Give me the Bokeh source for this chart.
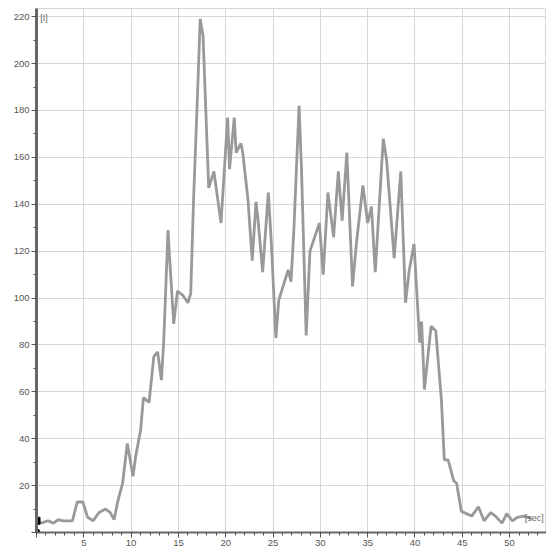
from bokeh.plotting import figure
from bokeh.models import Range1d, Label, SingleIntervalTicker
from bokeh.embed import file_html
from bokeh.resources import INLINE

t = [0.0, 0.5, 1.2, 1.8, 2.3, 2.8, 3.3, 3.8, 4.3, 4.9, 5.4, 6.0, 6.6, 7.3, 7.8, 8.2, 8.6, 9.1,
     9.6, 10.2, 10.5, 11.0, 11.3, 11.9, 12.4, 12.8, 13.2, 13.45, 13.9, 14.1, 14.5, 14.9, 15.5,
     16.0, 16.3, 16.6, 17.0, 17.3, 17.6, 18.2, 18.75, 19.5, 20.2, 20.4, 20.9, 21.1, 21.6, 21.8,
     22.35, 22.8, 23.2, 23.4, 23.9, 24.5, 24.8, 25.3, 25.6, 26.6, 26.9, 27.2, 27.75, 28.0, 28.5,
     28.9, 29.9, 30.3, 30.8, 31.4, 31.9, 32.3, 32.8, 33.4, 33.8, 34.5, 35.0, 35.4, 35.8, 36.65,
     37.0, 37.8, 38.5, 39.0, 39.4, 39.9, 40.5, 40.7, 41.0, 41.7, 42.2, 42.8, 43.1, 43.5, 44.1,
     44.4, 44.9, 46.0, 46.7, 47.3, 48.0, 48.5, 49.2, 49.7, 50.3, 50.8, 51.5, 52.3]
intensity = [5, 4, 5, 4, 5.5, 5, 5, 5, 13, 13, 6.5, 5, 8.5, 10, 8.5, 5.5, 13.5, 21,
             38, 24, 33, 43.5, 57.5, 55.5, 75, 77, 65, 82, 129, 115, 89, 103, 101,
             98, 102, 142, 185, 219, 212, 147, 154, 132, 177, 155, 177, 162, 166, 162,
             142, 116, 141, 134, 111, 145, 125, 83, 99, 112, 107, 129, 182, 156, 84,
             120, 132, 110, 145, 126, 154, 133, 162, 105, 123, 148, 132, 139, 111, 168,
             159, 117, 154, 98, 112, 123, 81, 90, 61, 88, 86, 56, 31, 31, 22,
             21, 9, 7, 11, 5, 8.5, 7, 4, 8, 5, 6.5, 7, 6]
marker_x = [0, 0]
marker_y = [5, 0]
y_label = "[I]"
x_label = "[sec]"

p = figure(width=546, height=550, output_backend="svg", toolbar_location=None,
           x_range=Range1d(0, 53.9), y_range=Range1d(0, 223.5),
           min_border_left=36, min_border_right=0, min_border_top=8, min_border_bottom=18)
p.background_fill_color = "white"
p.border_fill_color = "white"
p.outline_line_color = "#d6d6d6"

p.line(t, intensity, line_color="#999999", line_width=2.8)
p.scatter([marker_x[0]], [marker_y[0]], marker="square", size=7, color="black")
p.scatter([marker_x[1]], [marker_y[1]], marker="circle", size=7, color="black")

p.xaxis.ticker = SingleIntervalTicker(interval=5, num_minor_ticks=5)
p.yaxis.ticker = SingleIntervalTicker(interval=20, num_minor_ticks=2)
p.xaxis.major_label_overrides = {0: ""}
p.yaxis.major_label_overrides = {0: ""}

for ax in (p.xaxis, p.yaxis):
    ax.axis_line_color = "#666666"
    ax.major_tick_line_color = "#555555"
    ax.minor_tick_line_color = "#555555"
    ax.major_tick_in = 0
    ax.minor_tick_in = 0
    ax.major_tick_out = 5
    ax.minor_tick_out = 3
    ax.major_label_text_font = "Liberation Sans"
    ax.major_label_text_font_size = "9.5px"
    ax.major_label_text_color = "#555555"
    ax.major_label_standoff = 2
p.yaxis.axis_line_width = 3
p.xaxis.axis_line_width = 2

p.xgrid.grid_line_color = "#d6d6d6"
p.ygrid.grid_line_color = "#d6d6d6"

p.add_layout(Label(x=0.4, y=221.5, text=y_label, text_font="Liberation Sans",
                   text_font_size="9px", text_color="#666666", text_baseline="top"))
p.add_layout(Label(x=53.6, y=6, text=x_label, text_font="Liberation Sans",
                   text_font_size="9px", text_color="#666666", text_align="right",
                   text_baseline="middle"))

open("out.html", "w").write(file_html(p, INLINE))
